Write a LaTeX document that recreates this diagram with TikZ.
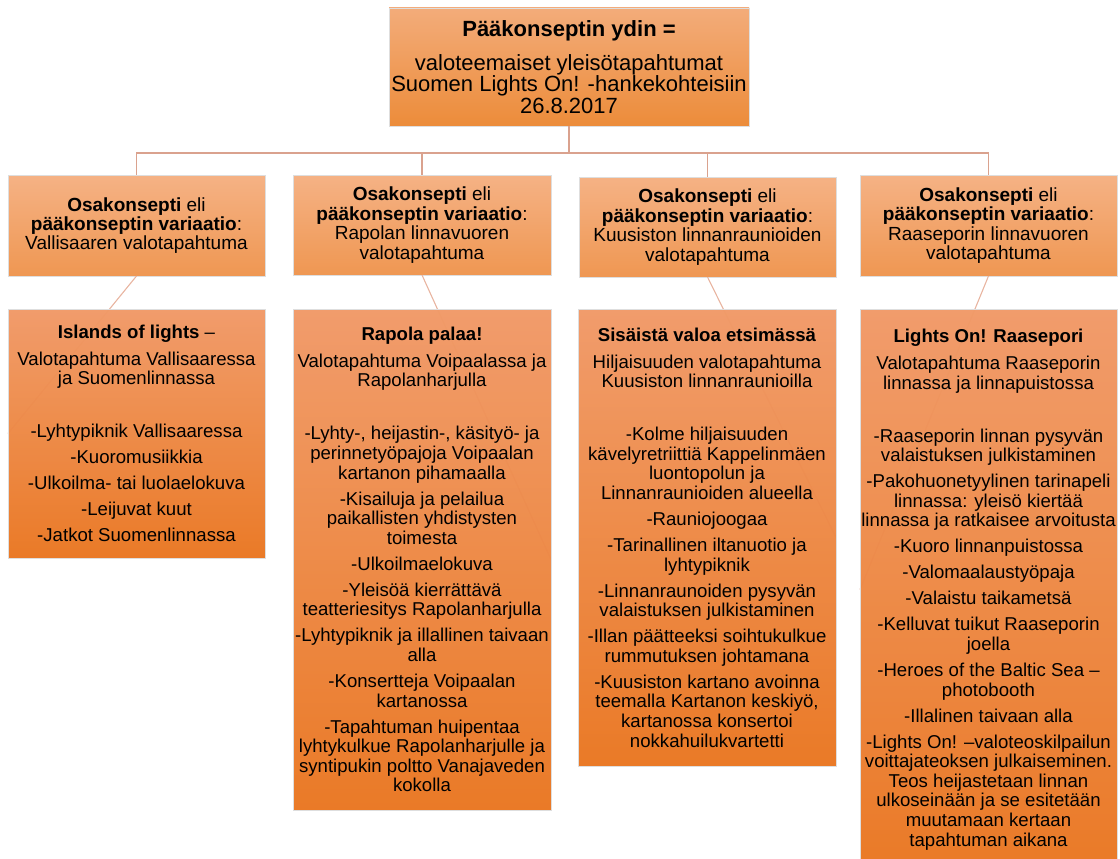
\documentclass[tikz,border=0pt]{standalone}
\usepackage{fontspec}
\setmainfont{Liberation Sans}
\newcommand\tightlines{\lineskiplimit -20pt\relax}
\definecolor{linkc}{RGB}{218,162,142}
\definecolor{diagc}{RGB}{232,180,160}
\definecolor{edgec}{RGB}{222,222,222}
\definecolor{topA}{RGB}{243,172,122}
\definecolor{topB}{RGB}{236,140,58}
\definecolor{midA}{RGB}{245,178,133}
\definecolor{midB}{RGB}{239,151,82}
\definecolor{lowA}{RGB}{241,154,104}
\definecolor{lowB}{RGB}{234,119,34}
\tikzset{
  box/.style={rectangle, inner sep=0pt, outer sep=0pt, draw=edgec, line width=0.6pt, align=center, text=black},
  topbox/.style={box, top color=topA, bottom color=topB, minimum width=360pt, minimum height=118pt,
    font=\fontsize{22}{21.3}\selectfont\tightlines},
  midbox/.style={box, top color=midA, bottom color=midB, minimum height=101pt,
    font=\fontsize{19}{19.4}\selectfont\tightlines},
  lowbox/.style={box, top color=lowA, bottom color=lowB, fill opacity=0.975, text opacity=1,
    font=\fontsize{18.6}{19.6}\selectfont\tightlines},
  link/.style={draw=linkc, line width=1.4pt},
  diag/.style={draw=diagc, line width=1.1pt}
}
\begin{document}
\begin{tikzpicture}[x=1pt, y=-1pt]
\useasboundingbox (0,0) rectangle (1120,859);
% top node
\node[topbox] (top) at (569,67) {\textbf{Pääkonseptin ydin =}\\[12.7pt]
valoteemaiset yleisötapahtumat\\
Suomen Lights On! -hankekohteisiin\\
26.8.2017};
% second level
\node[midbox, minimum width=257pt] (uA) at (136.5,225.5) {\textbf{Osakonsepti} eli\\ \textbf{pääkonseptin variaatio}:\\ Vallisaaren valotapahtuma};
\node[midbox, minimum width=258pt, minimum height=100pt] (uB) at (422,225) {\textbf{Osakonsepti} eli\\ \textbf{pääkonseptin variaatio}:\\ Rapolan linnavuoren\\ valotapahtuma};
\node[midbox, minimum width=257pt, minimum height=100pt] (uC) at (707.5,227) {\textbf{Osakonsepti} eli\\ \textbf{pääkonseptin variaatio}:\\ Kuusiston linnanraunioiden\\ valotapahtuma};
\node[midbox, minimum width=257pt] (uD) at (988.5,225.5) {\textbf{Osakonsepti} eli\\ \textbf{pääkonseptin variaatio}:\\ Raaseporin linnavuoren\\ valotapahtuma};
% bus connectors
\coordinate (bus) at (569,153);
\draw[link] (top.south) -- (bus) -| (uA.north);
\draw[link] (top.south) -- (bus) -| (uB.north);
\draw[link] (top.south) -- (bus) -| (uC.north);
\draw[link] (top.south) -- (bus) -| (uD.north);
% lower level connector ends
\coordinate (lAw) at (8,433.5);
\coordinate (lBe) at (551,559.5);
\coordinate (lCe) at (836,537.5);
\coordinate (lDw) at (860,589.5);
\draw[diag] (uA.south) -- (lAw);
\draw[diag] (uB.south) -- (lBe);
\draw[diag] (uC.south) -- (lCe);
\draw[diag] (uD.south) -- (lDw);
\node[lowbox, minimum width=257pt, minimum height=249pt] (lA) at (136.5,433.5) {\textbf{Islands of lights} –\\[7.4pt]
Valotapahtuma Vallisaaressa\\
ja Suomenlinnassa\\[33.4pt]
-Lyhtypiknik Vallisaaressa\\[6.4pt]
-Kuoromusiikkia\\[6.4pt]
-Ulkoilma- tai luolaelokuva\\[6.4pt]
-Leijuvat kuut\\[6.4pt]
-Jatkot Suomenlinnassa};
\node[lowbox, minimum width=258pt, minimum height=501pt] (lB) at (422,559.5) {\textbf{Rapola palaa!}\\[7.4pt]
Valotapahtuma Voipaalassa ja\\
Rapolanharjulla\\[33.4pt]
-Lyhty-, heijastin-, käsityö- ja\\
perinnetyöpajoja Voipaalan\\
kartanon pihamaalla\\[6.4pt]
-Kisailuja ja pelailua\\
paikallisten yhdistysten\\
toimesta\\[6.4pt]
-Ulkoilmaelokuva\\[6.4pt]
-Yleisöä kierrättävä\\
teatteriesitys Rapolanharjulla\\[6.4pt]
-Lyhtypiknik ja illallinen taivaan\\
alla\\[6.4pt]
-Konsertteja Voipaalan\\
kartanossa\\[6.4pt]
-Tapahtuman huipentaa\\
lyhtykulkue Rapolanharjulle ja\\
syntipukin poltto Vanajaveden\\
kokolla};
\node[lowbox, minimum width=258pt, minimum height=457pt] (lC) at (707,537.5) {\textbf{Sisäistä valoa etsimässä}\\[7.4pt]
Hiljaisuuden valotapahtuma\\
Kuusiston linnanraunioilla\\[33.4pt]
-Kolme hiljaisuuden\\
kävelyretriittiä Kappelinmäen\\
luontopolun ja\\
Linnanraunioiden alueella\\[6.4pt]
-Rauniojoogaa\\[6.4pt]
-Tarinallinen iltanuotio ja\\
lyhtypiknik\\[6.4pt]
-Linnanraunoiden pysyvän\\
valaistuksen julkistaminen\\[6.4pt]
-Illan päätteeksi soihtukulkue\\
rummutuksen johtamana\\[6.4pt]
-Kuusiston kartano avoinna\\
teemalla Kartanon keskiyö,\\
kartanossa konsertoi\\
nokkahuilukvartetti};
\node[lowbox, minimum width=257pt, minimum height=561pt] (lD) at (988.5,589.5) {\textbf{Lights On! Raasepori}\\[7.4pt]
Valotapahtuma Raaseporin\\
linnassa ja linnapuistossa\\[33.4pt]
-Raaseporin linnan pysyvän\\
valaistuksen julkistaminen\\[6.4pt]
-Pakohuonetyylinen tarinapeli\\
linnassa: yleisö kiertää\\
linnassa ja ratkaisee arvoitusta\\[6.4pt]
-Kuoro linnanpuistossa\\[6.4pt]
-Valomaalaustyöpaja\\[6.4pt]
-Valaistu taikametsä\\[6.4pt]
-Kelluvat tuikut Raaseporin\\
joella\\[6.4pt]
-Heroes of the Baltic Sea –\\
photobooth\\[6.4pt]
-Illalinen taivaan alla\\[6.4pt]
-Lights On! –valoteoskilpailun\\
voittajateoksen julkaiseminen.\\
Teos heijastetaan linnan\\
ulkoseinään ja se esitetään\\
muutamaan kertaan\\
tapahtuman aikana};
\end{tikzpicture}
\end{document}
